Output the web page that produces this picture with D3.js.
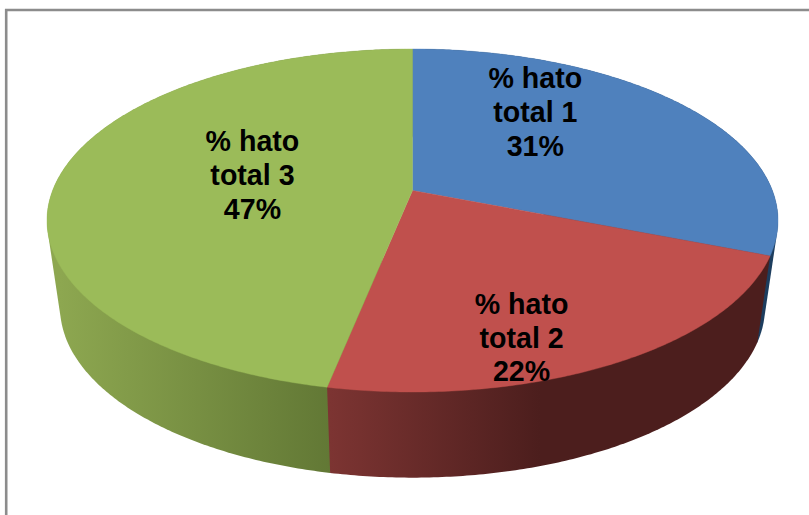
<!DOCTYPE html>
<html>
<head>
<meta charset="utf-8">
<script src="https://cdn.jsdelivr.net/npm/d3@7"></script>
<style>html,body{margin:0;padding:0;background:#fff}svg{display:block}</style>
</head>
<body>
<svg id="chart" width="809" height="515"></svg>
<script>
const categories = ["% hato total 1", "% hato total 2", "% hato total 3"];
const values = [31, 22.15, 46.85];
const labelLines = [["% hato", "total 1"], ["% hato", "total 2"], ["% hato", "total 3"]];
const topColors = ["#4f81bd", "#c0504d", "#9bbb59"];
const wallLeftColors = ["#1d3d5e", "#7c3432", "#8da750"];
const wallRightColors = ["#1d3d5e", "#4c1e1d", "#627835"];
const wallStops = [[700, 780], [330, 540], [60, 330]];
const wallOrder = [0, 2, 1];
const labelNudges = [[-19, -24], [16, 78], [17.5, 2.5]];

const svg = d3.select("#chart");
const defs = svg.append("defs");
const W = 809, H = 515;

// frame
svg.append("path")
  .attr("d", `M${W},10 H6.2 V${H}`)
  .attr("fill", "none").attr("stroke", "#8c8c8c").attr("stroke-width", 2.6);

// homography taking the unit circle to the tilted pie's rim
const cx = 412.5, cy = 220.5, rx = 365.5, ry = 171.5, apexShift = 30;
const persp = apexShift / ry;
const ax = rx * Math.sqrt(1 - persp * persp);
const depth = 86.5, bottomScale = 353 / 366;

function project(theta, r = 1) {
  const X = r * Math.sin(theta), Y = r * Math.cos(theta);
  const d = 1 + persp * Y;
  return [ax * X / d, (ry * Y + apexShift) / d];
}
const topPt = (t, r) => { const p = project(t, r); return [cx + p[0], cy - p[1]]; };
const botPt = t => { const p = project(t); return [cx + p[0] * bottomScale, cy + depth - p[1] * 0.995]; };

const arcs = d3.pie().sort(null).startAngle(0).endAngle(2 * Math.PI)(values);
const line = d3.line();

function sampleAngles(a) {
  const n = Math.ceil((a.endAngle - a.startAngle) / 0.01);
  const angle = d3.scaleLinear().domain([0, n]).range([a.startAngle, a.endAngle]);
  return d3.range(n + 1).map(angle);
}

// side walls: the hull swept by each slice's rim, shaded left to right
wallOrder.forEach(i => {
  const a = arcs[i];
  const id = "wall" + i;
  const grad = defs.append("linearGradient").attr("id", id)
    .attr("gradientUnits", "userSpaceOnUse")
    .attr("x1", wallStops[i][0]).attr("x2", wallStops[i][1])
    .attr("y1", 0).attr("y2", 0);
  grad.append("stop").attr("offset", 0).attr("stop-color", wallLeftColors[i]);
  grad.append("stop").attr("offset", 1).attr("stop-color", wallRightColors[i]);
  const ts = sampleAngles(a);
  const hull = d3.polygonHull(ts.map(t => topPt(t)).concat(ts.map(t => botPt(t))));
  svg.append("path").attr("d", line(hull) + "Z").attr("fill", `url(#${id})`);
});

// top face
arcs.forEach((a, i) => {
  const pts = [topPt(0, 0)].concat(sampleAngles(a).map(t => topPt(t)));
  svg.append("path").attr("d", line(pts) + "Z")
    .attr("fill", topColors[i]).attr("stroke", topColors[i]).attr("stroke-width", 0.4);
});

// labels
arcs.forEach((a, i) => {
  const mid = (a.startAngle + a.endAngle) / 2;
  const p = topPt(mid, 0.5);
  const x = p[0] + labelNudges[i][0], y = p[1] + labelNudges[i][1];
  const lines = labelLines[i].concat([d3.format(".0f")(a.value) + "%"]);
  const t = svg.append("text")
    .attr("text-anchor", "middle")
    .attr("font-family", "'Liberation Sans', Arial, sans-serif")
    .attr("font-weight", "bold").attr("font-size", 28.6).attr("fill", "#000");
  lines.forEach((s, j) => {
    t.append("tspan").attr("x", x).attr("y", y + (j - 1) * 33.8).text(s);
  });
});
</script>
</body>
</html>
